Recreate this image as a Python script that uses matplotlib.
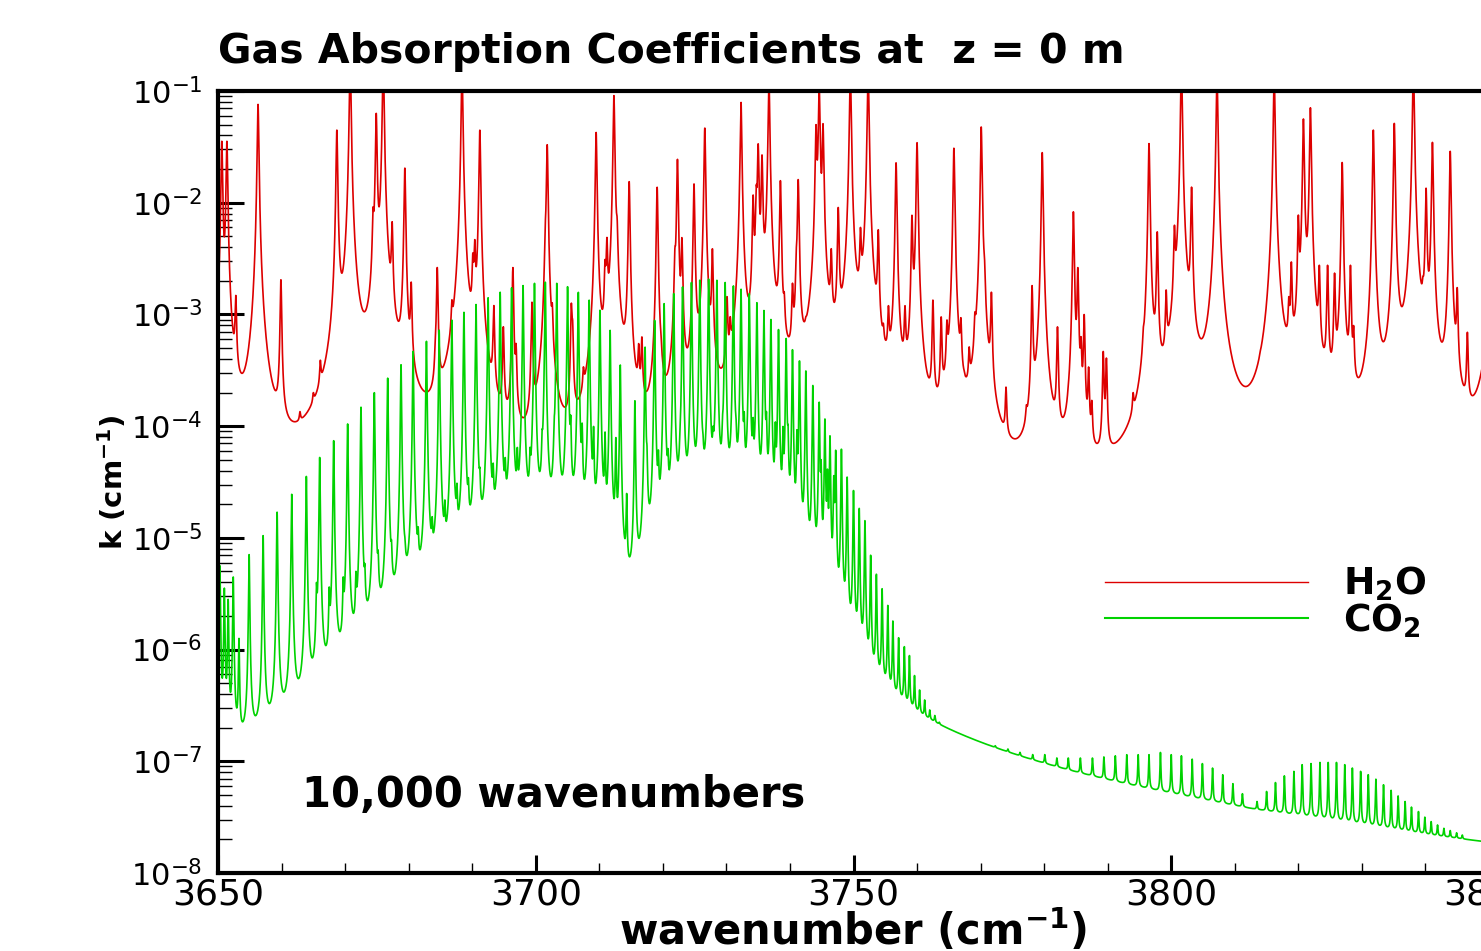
import numpy as np
import matplotlib.pyplot as plt
from matplotlib.ticker import LogLocator, MultipleLocator, LogFormatterMathtext, NullFormatter
from matplotlib.lines import Line2D

plt.rcParams['font.family'] = 'DejaVu Sans'
plt.rcParams['mathtext.fontset'] = 'dejavusans'

# ---- line lists: centre (cm-1) and peak log10 k (cm-1) ----
h2o_nu = [3650.6, 3651.4, 3652.8, 3656.3, 3659.9, 3662.9, 3665.0, 3666.1, 3668.7, 3670.0,
          3670.8, 3674.4, 3674.9, 3676.0, 3677.4, 3679.4, 3680.4, 3681.3, 3684.2, 3684.5,
          3686.8, 3688.4, 3690.1, 3690.4, 3691.2, 3693.4, 3694.9, 3696.4, 3696.9, 3699.4,
          3701.5, 3701.8, 3702.6, 3705.6, 3705.8, 3707.5, 3709.5, 3710.9, 3711.2, 3712.3,
          3712.8, 3714.7, 3716.2, 3716.7, 3719.1, 3719.7, 3721.9, 3722.3, 3723.0, 3724.9,
          3726.6, 3727.8, 3729.0, 3730.1, 3730.6, 3732.3, 3734.2, 3734.7, 3735.0, 3735.6,
          3736.7, 3738.5, 3739.1, 3740.4, 3741.0, 3741.3, 3742.5, 3744.1, 3744.6, 3745.2,
          3746.5, 3747.6, 3749.5, 3751.1, 3752.3, 3753.9, 3754.7, 3755.5, 3756.7, 3758.1,
          3759.2, 3760.0, 3762.5, 3763.8, 3764.7, 3765.8, 3766.9, 3767.4, 3768.2, 3769.1,
          3770.1, 3770.6, 3771.7, 3774.0, 3777.2, 3778.1, 3779.7, 3782.1, 3782.8, 3783.8,
          3784.6, 3785.3, 3785.8, 3786.3, 3787.0, 3787.5, 3789.3, 3789.8, 3792.1, 3793.0,
          3794.0, 3795.6, 3796.5, 3797.8, 3799.2, 3800.5, 3801.6, 3803.2, 3803.9, 3807.2,
          3809.8, 3814.0, 3816.2, 3818.5, 3818.9, 3820.0, 3820.8, 3821.9, 3823.3, 3824.6,
          3825.7, 3826.9, 3828.2, 3828.7, 3830.5, 3831.8, 3835.1, 3838.1, 3839.6, 3840.1,
          3841.1, 3843.9, 3845.0, 3846.6, 3851.0]
h2o_logk = [-1.45, -1.45, -2.83, -1.12, -2.69, -3.87, -3.70, -3.41, -1.35, -2.42,
            -0.70, -2.04, -1.20, -0.70, -2.17, -1.69, -2.71, -3.60, -3.20, -2.58,
            -2.87, -0.80, -2.45, -2.33, -1.35, -2.92, -3.11, -2.58, -3.26, -2.89,
            -2.18, -1.48, -2.90, -2.90, -3.05, -3.47, -1.37, -2.51, -2.31, -1.04,
            -2.13, -1.81, -3.26, -3.20, -1.86, -3.17, -2.40, -1.61, -2.31, -1.83,
            -1.33, -2.41, -3.56, -2.84, -3.02, -1.10, -1.93, -1.84, -1.47, -1.57,
            -0.90, -1.80, -2.80, -2.72, -2.41, -1.79, -3.02, -1.30, -0.95, -1.29,
            -2.41, -2.04, -0.80, -2.22, -0.80, -2.24, -3.08, -2.92, -1.64, -2.92,
            -2.11, -1.46, -2.87, -3.02, -3.05, -1.51, -3.03, -3.50, -3.29, -2.98,
            -1.32, -2.47, -2.80, -3.65, -3.81, -2.74, -1.55, -3.11, -3.92, -3.63,
            -2.08, -2.58, -3.20, -3.00, -3.47, -3.77, -3.33, -3.39, -4.15, -4.05,
            -3.70, -3.12, -1.47, -2.26, -2.78, -2.20, -0.75, -1.86, -3.15, -0.85,
            -3.57, -3.33, -0.85, -2.84, -2.53, -2.11, -1.25, -1.15, -2.56, -2.56,
            -2.63, -1.64, -2.56, -3.10, -3.38, -1.35, -1.29, -0.75, -2.66, -1.87,
            -1.46, -1.54, -2.76, -3.16, -1.00]

# CO2: lines at the left edge, P and R branches, hot-band lines, two weak bands
co2_edge_nu = [3650.3, 3651.0, 3651.6, 3652.4, 3653.3]
co2_edge_logk = [-5.25, -5.45, -5.55, -5.35, -5.90]

co2_p_nu = [3654.9, 3657.1, 3659.3, 3661.6, 3663.9, 3666.0, 3668.2, 3670.4, 3672.5, 3674.6,
            3676.7, 3678.8, 3680.7, 3682.8, 3684.8, 3686.8, 3688.7, 3690.6, 3692.5, 3694.4,
            3696.2, 3698.0, 3699.8, 3701.5, 3703.3, 3705.0, 3706.7, 3708.4, 3710.1, 3711.7,
            3713.3]
co2_p_logk = [-5.15, -4.98, -4.77, -4.61, -4.45, -4.28, -4.13, -3.98, -3.83, -3.70,
              -3.57, -3.45, -3.33, -3.24, -3.14, -3.05, -2.98, -2.91, -2.85, -2.80,
              -2.76, -2.74, -2.72, -2.71, -2.72, -2.75, -2.80, -2.87, -2.96, -3.14,
              -3.45]

co2_r_nu = [3715.6, 3717.2, 3718.7, 3720.2, 3721.7, 3723.1, 3724.5, 3725.8, 3727.2, 3728.5,
            3729.8, 3731.1, 3732.3, 3733.6, 3734.8, 3735.9, 3737.0, 3738.2, 3739.4, 3740.4,
            3741.5, 3742.5, 3743.6, 3744.6, 3745.5, 3746.3, 3747.2, 3748.1, 3749.0, 3750.0,
            3750.9, 3751.8, 3752.7, 3753.6, 3754.5, 3755.4, 3756.2, 3757.1, 3758.0, 3758.8,
            3759.6, 3760.4, 3761.2, 3762.0, 3762.8, 3763.5, 3764.2]
co2_r_logk = [-3.77, -3.29, -3.05, -2.90, -2.81, -2.75, -2.71, -2.69, -2.68, -2.69,
              -2.71, -2.74, -2.77, -2.81, -2.89, -2.96, -3.04, -3.13, -3.21, -3.31,
              -3.41, -3.50, -3.63, -3.78, -3.93, -4.08, -4.21, -4.20, -4.45, -4.57,
              -4.73, -4.84, -5.15, -5.32, -5.45, -5.60, -5.74, -5.89, -5.97, -6.05,
              -6.23, -6.36, -6.45, -6.54, -6.59, -6.65, -6.69]

co2_hot_nu = [3665.5, 3667.5, 3669.7, 3671.7, 3673.1, 3675.2, 3677.3, 3679.4, 3681.5, 3683.7,
              3685.7, 3687.6, 3689.4, 3691.2, 3693.3, 3695.2, 3697.1, 3699.1, 3701.0, 3702.9,
              3705.5, 3707.3, 3709.1, 3710.9, 3712.6, 3714.3, 3717.5, 3719.3, 3720.8, 3722.7,
              3724.3, 3726.3, 3727.9, 3729.4, 3731.5, 3732.8, 3734.2, 3736.3, 3737.7, 3738.9,
              3739.7, 3741.1, 3742.4, 3743.7, 3744.9, 3745.9, 3746.9]
co2_hot_logk = [-5.40, -5.44, -5.35, -5.30, -5.23, -5.11, -5.02, -4.99, -4.90, -4.81,
                -4.66, -4.51, -4.46, -4.37, -4.33, -4.28, -4.19, -4.19, -4.03, -3.93,
                -3.90, -3.97, -4.00, -4.05, -4.10, -4.60, -4.17, -4.21, -4.20, -4.03,
                -3.95, -4.05, -4.00, -3.90, -3.90, -3.87, -3.92, -3.87, -3.96, -4.00,
                -3.99, -4.03, -4.14, -4.17, -4.30, -4.38, -4.44]

co2_b1_nu = [3772.3, 3774.3, 3776.2, 3778.2, 3780.1, 3782.0, 3783.8, 3785.7, 3787.6, 3789.4,
             3791.2, 3793.0, 3794.8, 3796.5, 3798.3, 3800.0, 3801.6, 3803.3, 3804.9, 3806.5,
             3808.1, 3809.7, 3811.2]
co2_b1_logk = [-6.86, -6.89, -6.92, -6.94, -6.94, -6.97, -6.97, -6.97, -6.97, -6.96,
               -6.95, -6.94, -6.94, -6.94, -6.92, -6.94, -6.95, -6.98, -7.02, -7.06,
               -7.12, -7.20, -7.29]

co2_b2_nu = [3813.5, 3815.0, 3816.4, 3817.8, 3819.3, 3820.6, 3822.0, 3823.4, 3824.7, 3826.0,
             3827.3, 3828.5, 3829.8, 3831.0, 3832.2, 3833.4, 3834.6, 3835.7, 3836.8, 3837.8,
             3838.9, 3839.9, 3840.9, 3841.9, 3842.9, 3843.9, 3844.9, 3845.8]
co2_b2_logk = [-7.36, -7.27, -7.19, -7.13, -7.09, -7.03, -7.02, -7.01, -7.01, -7.01,
               -7.03, -7.06, -7.09, -7.12, -7.16, -7.21, -7.26, -7.31, -7.36, -7.41,
               -7.45, -7.50, -7.54, -7.57, -7.60, -7.62, -7.64, -7.66]

h2o_halfwidth = 0.11
co2_halfwidth = 0.078

nu = np.linspace(3650, 3850, 10000)


def spectrum(centres, logk, hw):
    # Lorentz lines whose summed peaks match the read values
    c = np.asarray(centres)
    target = 10.0 ** np.asarray(logk)
    m = hw**2 / ((c[:, None] - c[None, :])**2 + hw**2)
    s = target.copy()
    for _ in range(400):
        s *= target / (m @ s)
    prof = hw**2 / ((nu[:, None] - c[None, :])**2 + hw**2)
    return prof @ s


k_h2o = spectrum(h2o_nu, h2o_logk, h2o_halfwidth)
k_co2 = spectrum(co2_edge_nu + co2_p_nu + co2_r_nu + co2_hot_nu + co2_b1_nu + co2_b2_nu,
                 co2_edge_logk + co2_p_logk + co2_r_logk + co2_hot_logk + co2_b1_logk + co2_b2_logk,
                 co2_halfwidth)

fig = plt.figure(figsize=(14.81, 9.51), dpi=100)
ax = fig.add_axes([218 / 1481, 78 / 951, 1271 / 1481, 782 / 951])

ax.plot(nu, k_h2o, color='#dd0000', lw=1.2)
ax.plot(nu, k_co2, color='#00d200', lw=1.2)

ax.set_yscale('log')
ax.set_xlim(3650, 3850)
ax.set_ylim(1e-8, 1e-1)

ax.xaxis.set_major_locator(MultipleLocator(50))
ax.xaxis.set_minor_locator(MultipleLocator(10))
ax.yaxis.set_major_locator(LogLocator(base=10, numticks=20))
ax.yaxis.set_minor_locator(LogLocator(base=10, subs=np.arange(2, 10), numticks=20))
ax.yaxis.set_major_formatter(LogFormatterMathtext())
ax.yaxis.set_minor_formatter(NullFormatter())

ax.tick_params(axis='y', which='major', direction='in', length=19, width=2.2,
               labelsize=22, pad=11)
ax.tick_params(axis='y', which='minor', direction='in', length=10, width=1.0)
ax.tick_params(axis='x', which='major', direction='in', length=13, width=2.2,
               labelsize=26, pad=3)
ax.tick_params(axis='x', which='minor', direction='in', length=7, width=1.0)

for side in ['left', 'bottom', 'top', 'right']:
    ax.spines[side].set_linewidth(3)

ax.set_title('Gas Absorption Coefficients at  z = 0 m', loc='left',
             fontsize=29.5, fontweight='bold', pad=20)
ax.set_xlabel(r'wavenumber (cm$^{\mathbf{-1}}$)', fontsize=30, fontweight='bold', labelpad=-3)
ax.set_ylabel(r'k (cm$^{\mathbf{-1}}$)', fontsize=21, fontweight='bold', labelpad=2)

ax.text(0.066, 0.0997, '10,000 wavenumbers', transform=ax.transAxes,
        fontsize=30, fontweight='bold', va='center', ha='left')

handles = [Line2D([], [], color='#dd0000', lw=1.0),
           Line2D([], [], color='#00d200', lw=1.5)]
ax.legend(handles, [r'$\mathbf{H_2O}$', r'$\mathbf{CO_2}$'], loc='upper left',
          bbox_to_anchor=(0.698, 0.394), frameon=False, fontsize=27,
          handlelength=5.4, handletextpad=0.93, labelspacing=-0.05,
          borderpad=0, borderaxespad=0)

fig.savefig('out.png', dpi=100)
